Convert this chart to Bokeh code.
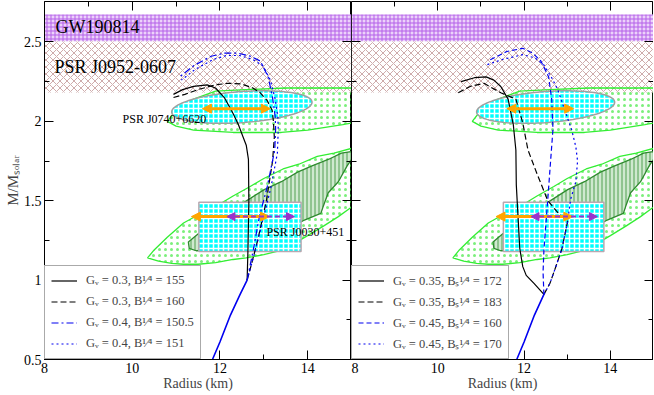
import numpy as np
from bokeh.plotting import figure
from bokeh.models import (ColumnDataSource, FixedTicker, LinearAxis, Label, Legend,
                          LegendItem, Arrow, NormalHead, Range1d, NumeralTickFormatter)
from bokeh.layouts import row
from bokeh.embed import file_html
from bokeh.resources import INLINE

FONT = "Liberation Serif"

# ---------------- axes ----------------
x_ticks = [8, 10, 12, 14]
x_minor = [9, 11, 13]
y_ticks = [0.5, 1, 1.5, 2, 2.5]
y_minor = [0.75, 1.25, 1.75, 2.25]
x_lim = [8, 15]
y_lim = [0.5, 2.755]

# ---------------- observational constraints ----------------
gw190814_band = [2.50, 2.67]
j0952_band = [2.18, 2.50]

j0740_ell_center = [12.5, 2.09]
j0740_ell_axes = [1.6, 0.098]
j0740_ell_tilt = 0.019

j0030_box_r = [11.52, 13.85]
j0030_box_m = [1.18, 1.49]

j0740_arrow_r = [11.6, 13.15]
j0740_arrow_m = [2.08, 2.08]
j0030_arrow_r = [11.35, 13.13]
j0030_arrow_m = [1.40, 1.40]
j0030_purple_r = [12.16, 13.70]
j0030_purple_m = [1.40, 1.40]

j0740_outer_r = [10.8, 11.0, 11.4, 11.9, 12.6, 13.5, 14.5, 15.0, 15.0, 14.8, 14.0, 13.4, 12.3, 11.4, 11.0]
j0740_outer_m = [2.00, 2.07, 2.14, 2.19, 2.20, 2.21, 2.21, 2.21, 1.99, 1.98, 1.945, 1.93, 1.93, 1.945, 1.97]

j0030_outer_r = [10.35, 10.5, 10.8, 11.17, 11.5, 11.94, 12.3, 12.69, 13.0, 13.44, 13.8, 14.22, 14.6, 15.0,
                 15.0, 14.7, 14.36, 14.0, 13.44, 13.0, 12.6, 12.3, 11.9, 11.5, 11.17, 10.9, 10.6]
j0030_outer_m = [1.14, 1.19, 1.27, 1.36, 1.41, 1.47, 1.53, 1.59, 1.64, 1.70, 1.73, 1.78, 1.80, 1.83,
                 1.46, 1.40, 1.34, 1.28, 1.19, 1.16, 1.14, 1.13, 1.11, 1.10, 1.10, 1.105, 1.12]

j0030_inner_r = [11.28, 11.5, 12.0, 12.55, 13.01, 13.4, 13.77, 14.1, 14.47, 14.77, 15.0,
                 15.0, 14.9, 14.7, 14.47, 14.35, 14.3, 13.94, 13.6, 13.0, 12.4, 11.9, 11.46, 11.3]
j0030_inner_m = [1.24, 1.29, 1.39, 1.49, 1.57, 1.62, 1.68, 1.72, 1.76, 1.80, 1.81,
                 1.76, 1.72, 1.62, 1.55, 1.46, 1.42, 1.38, 1.33, 1.27, 1.22, 1.19, 1.185, 1.20]

# ---------------- M-R curves ----------------
hadron_r = [11.83, 12.0, 12.24, 12.46, 12.62]
hadron_m = [0.5, 0.61, 0.78, 0.91, 1.0]

# left panel
l_solid_r = [12.62, 12.64, 12.66, 12.65, 12.6, 12.53, 12.42, 12.3, 12.1, 11.9, 11.71, 11.4, 11.15, 10.94]
l_solid_m = [1.0, 1.2, 1.5, 1.76, 1.85, 1.9, 1.98, 2.05, 2.15, 2.21, 2.23, 2.22, 2.2, 2.17]
l_dash_r = [12.62, 12.7, 12.86, 13.06, 13.2, 13.24, 13.22, 13.19, 13.08, 12.92, 12.75, 12.5, 12.19, 11.9, 11.5, 11.2, 10.94]
l_dash_m = [1.0, 1.08, 1.25, 1.5, 1.75, 1.9, 2.0, 2.07, 2.13, 2.18, 2.21, 2.235, 2.24, 2.23, 2.2, 2.17, 2.15]
l_dashdot_r = [12.62, 12.76, 12.9, 13.08, 13.25, 13.27, 13.26, 13.2, 13.1, 12.92, 12.7, 12.4, 12.1, 11.8, 11.4, 11.08]
l_dashdot_m = [1.0, 1.19, 1.40, 1.59, 1.82, 1.95, 2.03, 2.15, 2.28, 2.38, 2.41, 2.43, 2.43, 2.41, 2.35, 2.28]
l_dot_r = [12.62, 12.68, 12.82, 12.98, 13.16, 13.31, 13.33, 13.32, 13.26, 13.15, 12.98, 12.75, 12.45, 12.15, 11.85, 11.45, 11.12]
l_dot_m = [1.0, 1.06, 1.2, 1.38, 1.58, 1.8, 1.95, 2.03, 2.14, 2.26, 2.35, 2.39, 2.415, 2.415, 2.39, 2.33, 2.26]

# right panel
r_solid_r = [12.46, 12.23, 12.05, 11.97, 11.9, 11.86, 11.82, 11.81, 11.75, 11.63, 11.46, 11.3, 11.12, 10.85, 10.54]
r_solid_m = [0.91, 0.98, 1.03, 1.085, 1.2, 1.4, 1.6, 1.82, 1.98, 2.14, 2.22, 2.26, 2.28, 2.275, 2.25]
r_dash_r = [12.46, 12.6, 12.73, 12.88, 13.01, 12.8, 12.55, 12.3, 12.09, 11.97, 11.81, 11.46, 11.07, 10.75, 10.47]
r_dash_m = [0.91, 0.98, 1.08, 1.2, 1.37, 1.42, 1.50, 1.67, 1.82, 1.99, 2.14, 2.18, 2.24, 2.22, 2.18]
r_bdash_r = [12.46, 12.44, 12.46, 12.55, 12.62, 12.67, 12.64, 12.57, 12.39, 12.2, 11.97, 11.6, 11.16]
r_bdash_m = [0.91, 1.05, 1.19, 1.51, 1.77, 1.95, 2.14, 2.28, 2.38, 2.43, 2.46, 2.44, 2.38]
r_bdot_r = [12.46, 12.6, 12.73, 12.88, 13.01, 13.08, 13.2, 13.24, 13.2, 13.1, 12.97, 12.78, 12.65, 12.46, 12.25, 11.97, 11.5, 11.12]
r_bdot_m = [0.91, 0.98, 1.08, 1.2, 1.37, 1.51, 1.62, 1.75, 1.84, 1.95, 2.05, 2.2, 2.27, 2.355, 2.40, 2.42, 2.39, 2.355]

left_legend = ["Gᵥ = 0.3, B¹⁄⁴ = 155", "Gᵥ = 0.3, B¹⁄⁴ = 160",
               "Gᵥ = 0.4, B¹⁄⁴ = 150.5", "Gᵥ = 0.4, B¹⁄⁴ = 151"]
right_legend = ["Gᵥ = 0.35, Bₛ¹⁄⁴ = 172", "Gᵥ = 0.35, Bₛ¹⁄⁴ = 183",
                "Gᵥ = 0.45, Bₛ¹⁄⁴ = 160", "Gᵥ = 0.45, Bₛ¹⁄⁴ = 170"]

y_title = "M/Mₛₒₗₐᵣ"
x_title = "Radius (km)"

BLUE = "#0000f0"


def tick_style(ax, labels):
    ax.axis_line_color = "black"
    ax.axis_line_width = 1
    ax.major_tick_line_color = "black"
    ax.minor_tick_line_color = "black"
    ax.major_tick_in = 9
    ax.major_tick_out = 0
    ax.minor_tick_in = 5
    ax.minor_tick_out = 0
    if labels:
        ax.major_label_text_font = FONT
        ax.major_label_text_font_size = "14px"
        ax.major_label_text_color = "black"
    else:
        ax.major_label_text_font_size = "0px"
        ax.major_label_text_color = None
        ax.major_label_text_alpha = 0
        ax.major_label_standoff = 0


def make_panel(is_left):
    p = figure(frame_width=307 if is_left else 302, frame_height=358,
               x_range=Range1d(*x_lim), y_range=Range1d(*y_lim),
               output_backend="svg", toolbar_location=None,
               min_border_left=44 if is_left else 0, min_border_right=0,
               min_border_top=1, min_border_bottom=0)
    p.xgrid.visible = False
    p.ygrid.visible = False
    p.outline_line_color = "black"
    p.outline_line_width = 1
    p.background_fill_color = "white"
    p.border_fill_color = "white"

    # axes
    xb = p.xaxis[0]
    xb.ticker = FixedTicker(ticks=x_ticks, minor_ticks=x_minor)
    tick_style(xb, True)
    xb.major_label_standoff = 3
    xb.axis_label = x_title
    xb.axis_label_text_font = FONT
    xb.axis_label_text_font_size = "14px"
    xb.axis_label_text_font_style = "normal"
    xb.axis_label_standoff = 0

    yl = p.yaxis[0]
    yl.ticker = FixedTicker(ticks=y_ticks, minor_ticks=y_minor)
    tick_style(yl, is_left)
    if is_left:
        yl.formatter = NumeralTickFormatter(format="0.[0]")
        yl.major_label_standoff = 3
        yl.axis_label = y_title
        yl.axis_label_text_font = FONT
        yl.axis_label_text_font_size = "15px"
        yl.axis_label_text_font_style = "normal"
        yl.axis_label_standoff = 0
    else:
        yl.fixed_location = x_lim[0]

    top = LinearAxis(ticker=FixedTicker(ticks=x_ticks, minor_ticks=x_minor), fixed_location=y_lim[1])
    tick_style(top, False)
    p.add_layout(top, "above")
    right = LinearAxis(ticker=FixedTicker(ticks=y_ticks, minor_ticks=y_minor), fixed_location=x_lim[1])
    tick_style(right, False)
    p.add_layout(right, "right")

    # bands
    p.hstrip(y0=[gw190814_band[0]], y1=[gw190814_band[1]], fill_color="#ecd2fa",
             line_color=None, hatch_pattern="cross", hatch_color="#b45ee8",
             hatch_scale=4, hatch_weight=1)
    p.hstrip(y0=[j0952_band[0]], y1=[j0952_band[1]], fill_color="white",
             line_color=None, hatch_pattern="diagonal_cross", hatch_color="#c8a2a2",
             hatch_scale=7, hatch_weight=0.9)

    # NICER regions
    for rr, mm in ((j0740_outer_r, j0740_outer_m), (j0030_outer_r, j0030_outer_m)):
        p.patch(rr, mm, fill_color="white", fill_alpha=0.0,
                line_color="#33ee33", line_width=1.3, hatch_pattern="dot",
                hatch_color="#44e844", hatch_scale=6, hatch_alpha=0.7)
    p.patch(j0030_inner_r, j0030_inner_m, fill_color="#cfe9cf",
            line_color="#2f8a2f", line_width=1.3, hatch_pattern="vertical_line",
            hatch_color="#4f9f4f", hatch_scale=4, hatch_weight=1)

    # J0740 ellipse
    t = np.linspace(0, 2 * np.pi, 120)
    ex = j0740_ell_center[0] + j0740_ell_axes[0] * np.cos(t)
    ey = j0740_ell_center[1] + j0740_ell_axes[1] * np.sin(t) + j0740_ell_tilt * (ex - j0740_ell_center[0])
    p.patch(ex, ey, fill_color="#00ffff", line_color="#a0a0a0", line_width=1.5,
            hatch_pattern="cross", hatch_color="white", hatch_scale=5, hatch_weight=1.5)

    # J0030 box
    p.quad(left=[j0030_box_r[0]], right=[j0030_box_r[1]], bottom=[j0030_box_m[0]],
           top=[j0030_box_m[1]], fill_color="#00ffff", line_color="#b8a8b0", line_width=1.5,
           hatch_pattern="cross", hatch_color="white", hatch_scale=5, hatch_weight=1.5)

    # curves
    renderers = []
    if is_left:
        p.line(hadron_r, hadron_m, color=BLUE, line_width=1.6)
        renderers.append(p.line(l_solid_r, l_solid_m, color="black", line_width=1.2))
        renderers.append(p.line(l_dash_r, l_dash_m, color="black", line_width=1.2, line_dash="6 3"))
        renderers.append(p.line(l_dashdot_r, l_dashdot_m, color=BLUE, line_width=1.2, line_dash="7 3 2 3"))
        renderers.append(p.line(l_dot_r, l_dot_m, color=BLUE, line_width=1.2, line_dash="2 3"))
        labels = left_legend
    else:
        p.line(hadron_r[:4], hadron_m[:4], color=BLUE, line_width=1.6)
        renderers.append(p.line(r_solid_r, r_solid_m, color="black", line_width=1.2))
        renderers.append(p.line(r_dash_r, r_dash_m, color="black", line_width=1.2, line_dash="6 3"))
        renderers.append(p.line(r_bdash_r, r_bdash_m, color=BLUE, line_width=1.2, line_dash="5 3"))
        renderers.append(p.line(r_bdot_r, r_bdot_m, color=BLUE, line_width=1.2, line_dash="2 3"))
        labels = right_legend

    # arrows
    orange_head = dict(size=9, fill_color="#ffa500", line_color="#ffa500")
    src_o = ColumnDataSource(dict(
        x0=[j0740_arrow_r[0], j0030_arrow_r[0]], x1=[j0740_arrow_r[1], j0030_arrow_r[1]],
        y0=[j0740_arrow_m[0], j0030_arrow_m[0]], y1=[j0740_arrow_m[1], j0030_arrow_m[1]]))
    p.add_layout(Arrow(source=src_o, x_start="x0", y_start="y0", x_end="x1", y_end="y1",
                       line_color="#ffa500", line_width=3,
                       start=NormalHead(**orange_head), end=NormalHead(**orange_head)))
    purple_head = dict(size=8, fill_color="#9933cc", line_color="#9933cc")
    src_p = ColumnDataSource(dict(x0=[j0030_purple_r[0]], x1=[j0030_purple_r[1]],
                                  y0=[j0030_purple_m[0]], y1=[j0030_purple_m[1]]))
    p.add_layout(Arrow(source=src_p, x_start="x0", y_start="y0", x_end="x1", y_end="y1",
                       line_color="#9933cc", line_width=2, line_dash="5 3",
                       start=NormalHead(**purple_head), end=NormalHead(**purple_head)))

    # legend
    leg = Legend(items=[LegendItem(label=lb, renderers=[r]) for lb, r in zip(labels, renderers)],
                 location="bottom_left", margin=0, padding=6, spacing=4,
                 label_height=17, glyph_height=17, glyph_width=26, label_standoff=9,
                 label_text_font=FONT, label_text_font_size="12.5px",
                 border_line_color="#555555", border_line_width=1.5,
                 background_fill_color="white", background_fill_alpha=1.0)
    p.add_layout(leg)

    if is_left:
        txt = [("GW190814", 8.25, 2.595, "18px"),
               ("PSR J0952-0607", 8.23, 2.34, "18px"),
               ("PSR J0740+6620", 9.78, 2.016, "12px"),
               ("PSR J0030+451", 13.06, 1.305, "12px")]
        for s, x, y, fs in txt:
            p.add_layout(Label(x=x, y=y, text=s, text_font=FONT, text_font_size=fs,
                               text_baseline="middle", text_align="left", text_color="black"))
    return p


left = make_panel(True)
right = make_panel(False)
layout = row(left, right)

open("out.html", "w").write(file_html(layout, INLINE))
